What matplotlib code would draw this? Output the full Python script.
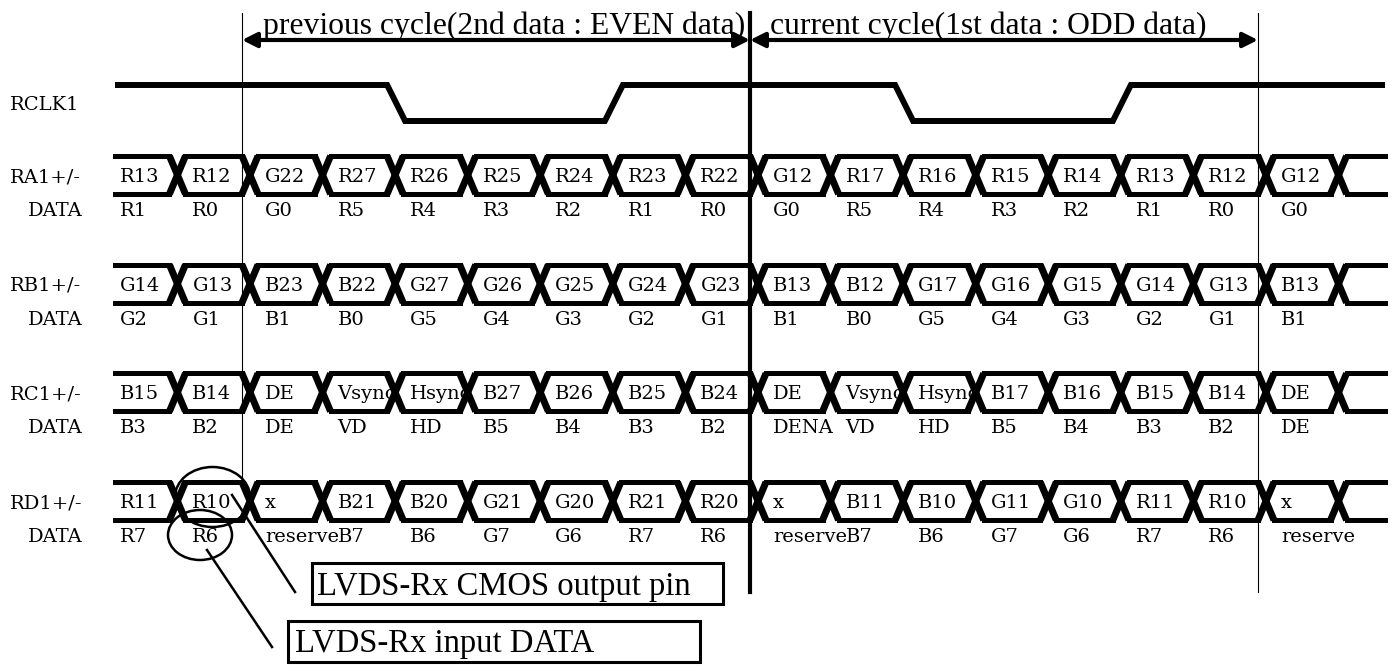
"""
LVDS receiver timing: RCLK1 and the four data lanes, two cycles
"""
import numpy as np
import matplotlib.pyplot as plt
from matplotlib.patches import Ellipse, Rectangle

# lane contents, one entry per bit slot (slot -2 .. 15)
ra1 = ["R13", "R12", "G22", "R27", "R26", "R25", "R24", "R23", "R22",
       "G12", "R17", "R16", "R15", "R14", "R13", "R12", "G12", ""]
ra1_data = ["R1", "R0", "G0", "R5", "R4", "R3", "R2", "R1", "R0",
            "G0", "R5", "R4", "R3", "R2", "R1", "R0", "G0", ""]
rb1 = ["G14", "G13", "B23", "B22", "G27", "G26", "G25", "G24", "G23",
       "B13", "B12", "G17", "G16", "G15", "G14", "G13", "B13", ""]
rb1_data = ["G2", "G1", "B1", "B0", "G5", "G4", "G3", "G2", "G1",
            "B1", "B0", "G5", "G4", "G3", "G2", "G1", "B1", ""]
rc1 = ["B15", "B14", "DE", "Vsync", "Hsync", "B27", "B26", "B25", "B24",
       "DE", "Vsync", "Hsync", "B17", "B16", "B15", "B14", "DE", ""]
rc1_data = ["B3", "B2", "DE", "VD", "HD", "B5", "B4", "B3", "B2",
            "DENA", "VD", "HD", "B5", "B4", "B3", "B2", "DE", ""]
rd1 = ["R11", "R10", "x", "B21", "B20", "G21", "G20", "R21", "R20",
       "x", "B11", "B10", "G11", "G10", "R11", "R10", "x", ""]
rd1_data = ["R7", "R6", "reserve", "B7", "B6", "G7", "G6", "R7", "R6",
            "reserve", "B7", "B6", "G7", "G6", "R7", "R6", "reserve", ""]
lane_names = ["RA1+/-", "RB1+/-", "RC1+/-", "RD1+/-"]
clock = [1, 1, 1, 1, 0, 0, 0, 1, 1, 1, 1, 0, 0, 0, 1, 1, 1, 1]
cycle_titles = ["previous cycle(2nd data : EVEN data)",
                "current cycle(1st data : ODD data)"]
notes = ["LVDS-Rx CMOS output pin", "LVDS-Rx input DATA"]

lanes = [(ra1, ra1_data), (rb1, rb1_data), (rc1, rc1_data), (rd1, rd1_data)]

# layout (pixel units, y down)
W, H = 1395, 667
x0 = 242.0          # start of previous cycle
slot = 72.57        # bit width
first = -2          # index of first slot
x_left, x_right = 115, 1385
xw = 16             # crossing width
half = 19           # half bus height
small = dict(family=["DejaVu Serif", "Liberation Serif"], fontsize=14, va="baseline")
big = dict(family=["Liberation Serif"], fontsize=23.5, va="baseline")


def edge(k):
    return x0 + (k + first) * slot


def draw_bus(ax, yc, labels, data):
    yt, yb = yc - half, yc + half
    n = len(labels)
    for i in range(n):
        s, e = edge(i), edge(i + 1)
        a = x_left if i == 0 else s + xw
        b = x_right if i == n - 1 else e
        ax.plot([a, b], [yt, yt], color="k", lw=3.6, solid_capstyle="projecting")
        ax.plot([a, b], [yb, yb], color="k", lw=3.6, solid_capstyle="projecting")
        if i > 0:
            ax.plot([s, s + xw], [yt, yb], color="k", lw=5, solid_capstyle="butt")
            ax.plot([s, s + xw], [yb, yt], color="k", lw=5, solid_capstyle="butt")
        ax.text(s + 23, yc + 7, labels[i], **small)
        ax.text(s + 23, yc + 41, data[i], **small)


fig = plt.figure(figsize=(W / 100, H / 100), dpi=100)
ax = fig.add_axes([0, 0, 1, 1])
ax.set_xlim(0, W)
ax.set_ylim(H, 0)
ax.axis("off")

# clock
hi, lo = 85, 121
cx, cy = [x_left], [hi if clock[0] else lo]
for i in range(1, len(clock)):
    if clock[i] != clock[i - 1]:
        b = edge(i)
        cx += [b, b + 18]
        cy += [hi if clock[i - 1] else lo, hi if clock[i] else lo]
cx.append(x_right)
cy.append(cy[-1])
ax.plot(cx, cy, color="k", lw=4.3, solid_joinstyle="miter", solid_capstyle="butt")
ax.text(10, 110, "RCLK1", **small)

# data lanes
row0, pitch = 175, 108.7
for j, (labels, data) in enumerate(lanes):
    yc = row0 + j * pitch
    draw_bus(ax, yc, labels, data)
    ax.text(10, yc + 7, lane_names[j], **small)
    ax.text(28, yc + 41, "DATA", **small)

# cycle markers
x1, x2 = x0 + 7 * slot, x0 + 14 * slot
ax.plot([x0, x0], [13, 485], color="k", lw=0.8)
ax.plot([x2, x2], [13, 592], color="k", lw=0.8)
ax.plot([x1, x1], [13, 592], color="k", lw=3)
for a, b, t, tx in [(x0, x1, cycle_titles[0], 263), (x1, x2, cycle_titles[1], 770)]:
    ax.annotate("", xy=(a, 40), xytext=(b, 40),
                arrowprops=dict(arrowstyle="<|-|>", color="k", lw=3,
                                mutation_scale=22, shrinkA=0, shrinkB=0))
    ax.text(tx, 34, t, family=["Liberation Serif"], fontsize=22.8, va="baseline")

# callouts
ax.add_patch(Ellipse((212.5, 497), 75, 60, fill=False, lw=1.8))
ax.add_patch(Ellipse((200, 535), 64, 50, fill=False, lw=1.8))
ax.plot([232, 295], [495, 592], color="k", lw=1.8)
ax.plot([207, 272], [550, 647], color="k", lw=1.8)
ax.add_patch(Rectangle((312, 563), 411, 41, fill=False, lw=2.2))
ax.text(317, 595, notes[0], **big)
ax.add_patch(Rectangle((288, 621), 412, 41, fill=False, lw=2.2))
ax.text(295, 652, notes[1], **big)

fig.savefig("out.png", dpi=100)
